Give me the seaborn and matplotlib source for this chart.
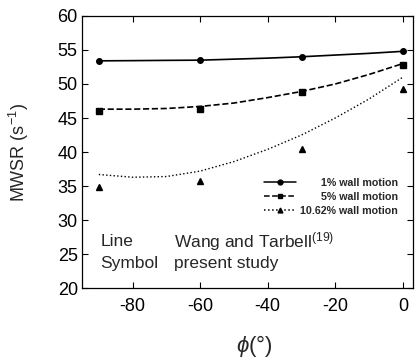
import numpy as np
import pandas as pd
import matplotlib
matplotlib.use('Agg')
import matplotlib.pyplot as plt
from matplotlib.lines import Line2D
import seaborn as sns

# ── Data ───────────────────────────────────────────────────────────────────────
phi_pts = [-90, -60, -30, 0]
sym_1 = [53.4, 53.5, 54.0, 54.8]
sym_5 = [46.1, 46.3, 48.8, 52.8]
sym_10 = [34.8, 35.7, 40.4, 49.3]

phi_curve = [-90, -80, -70, -60, -50, -40, -30, -20, -10, 0]
line_1 = [53.4, 53.43, 53.47, 53.5, 53.65, 53.8, 54.0, 54.25, 54.5, 54.8]
line_5 = [46.3, 46.3, 46.4, 46.7, 47.2, 48.0, 48.9, 50.0, 51.4, 53.0]
line_10 = [36.7, 36.3, 36.4, 37.2, 38.6, 40.4, 42.5, 45.0, 47.8, 51.0]

labels = ['1% wall motion', '5% wall motion', '10.62% wall motion']

# ── Style ──────────────────────────────────────────────────────────────────────
sns.set_theme(style='ticks')
plt.rcParams['font.family'] = ['Liberation Sans', 'DejaVu Sans']
plt.rcParams['mathtext.fontset'] = 'custom'
plt.rcParams['mathtext.rm'] = 'Liberation Sans'
plt.rcParams['mathtext.it'] = 'Liberation Sans:italic'
plt.rcParams['axes.unicode_minus'] = False

fig = plt.figure(figsize=(4.18, 3.62), dpi=100)
ax = fig.add_axes([0.196, 0.204, 0.792, 0.752])

styles = ['-', '--', ':']
markers = ['o', 's', '^']
msizes = [4, 4.6, 4]
for ys, ls in zip([line_1, line_5, line_10], styles):
    sns.lineplot(x=phi_curve, y=ys, ax=ax, color='black', linestyle=ls,
                 linewidth=1.2 if ls != ':' else 1.0, legend=False)
for ys, m, ms in zip([sym_1, sym_5, sym_10], markers, msizes):
    ax.plot(phi_pts, ys, linestyle='none', marker=m, color='black', markersize=ms)

ax.set_xlim(-95, 3)
ax.set_ylim(20, 60)
ax.set_xticks([-80, -60, -40, -20, 0])
ax.set_yticks(np.arange(20, 61, 5))
ax.tick_params(direction='in', top=True, right=True, labelsize=13,
               length=4, width=0.8, colors='black', pad=3)
ax.tick_params(axis='x', pad=7)
for sp in ax.spines.values():
    sp.set_visible(True)
    sp.set_color('black')
    sp.set_linewidth(0.9)

ax.set_ylabel('MWSR (s$^{-1}$)', fontsize=13)
ax.yaxis.set_label_coords(-0.155, 0.5)
ax.set_xlabel(r'$\phi$(°)', fontsize=16)
ax.xaxis.set_label_coords(0.52, -0.165)

ax.text(-89.5, 26.9, 'Line', fontsize=12.5, va='center')
ax.text(-67.7, 26.9, 'Wang and Tarbell$^{(19)}$', fontsize=12.5, va='center')
ax.text(-89.5, 23.6, 'Symbol', fontsize=12.5, va='center')
ax.text(-67.7, 23.6, 'present study', fontsize=12.5, va='center')

handles = [Line2D([], [], color='black', linestyle=ls, marker=m, markersize=3.5,
                  linewidth=1.1)
           for ls, m in zip(styles, markers)]
leg = ax.legend(handles, labels, loc='upper left', bbox_to_anchor=(0.55, 0.405),
                frameon=False, prop={'size': 7.7, 'weight': 'bold'},
                handlelength=3.0, handletextpad=0.35, labelspacing=0.38,
                borderaxespad=0, borderpad=0)
fig.canvas.draw()
texts = leg.get_texts()
widths = [t.get_window_extent().width for t in texts]
w = max(widths)
for t, wi in zip(texts, widths):
    t.set_position((w - wi, 0))

fig.savefig('out.png', dpi=100)
